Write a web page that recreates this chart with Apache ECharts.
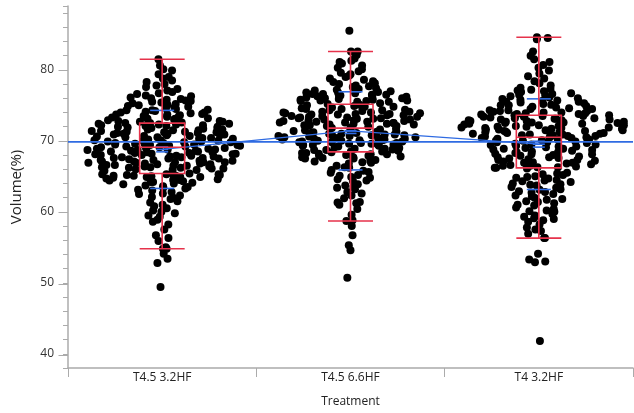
<!DOCTYPE html>
<html><head><meta charset="utf-8">
<script src="https://cdn.jsdelivr.net/npm/echarts@6/dist/echarts.min.js"></script>
<style>html,body{margin:0;padding:0;background:#fff}#c{width:634px;height:413px}</style>
</head><body><div id="c"></div>
<script>
const categories = ['T4.5 3.2HF', 'T4.5 6.6HF', 'T4 3.2HF'];
const yTickLabels = [40, 50, 60, 70, 80];

const volT45_32 = [
  49.4, 52.8, 53.4, 54.1, 54.8, 54.8, 55.0, 55.9,
  56.3, 56.7, 57.5,
  58.2, 58.6, 58.9, 59.3, 59.5, 59.8, 60.0, 60.2,
  60.5, 60.8, 61.0, 61.3, 61.5, 61.8, 62.0, 62.1, 62.3, 62.5, 62.6,
  62.8, 63.0, 63.1, 63.3, 63.4, 63.5, 63.6, 63.7, 63.9, 64.0, 64.1, 64.2, 64.3, 64.4, 64.5, 64.6, 64.7, 64.8, 64.9, 64.9, 65.0,
  65.1, 65.1, 65.2, 65.2, 65.3, 65.3, 65.4, 64.2, 64.5, 64.7, 64.9, 65.1, 65.2, 65.3, 65.8, 65.9, 65.9, 66.0, 66.1, 66.1,
  66.2, 66.2, 66.3, 66.3, 66.4, 66.4, 66.5, 66.5, 66.6, 66.6, 66.7, 66.7, 66.8, 66.8, 66.9, 66.9, 67.0, 67.0, 67.0, 67.1,
  67.1, 67.2, 67.2, 67.3, 67.3, 67.4,
  67.5, 67.5, 67.6, 67.6, 67.7, 67.7, 67.8, 67.8, 67.9, 67.9, 68.0, 68.0, 68.1, 68.1, 68.2, 68.2, 68.3, 68.3, 68.4, 68.4,
  68.5, 68.5, 68.6, 68.6, 68.7, 68.7, 68.8, 68.8, 68.9, 68.9, 69.0, 69.0, 69.1, 69.1, 69.2, 69.2, 69.3, 69.3, 69.4, 69.4,
  69.5, 69.5, 69.6, 69.6, 69.7,
  69.7, 69.8, 69.8, 69.9, 69.9, 70.0, 70.0, 70.1, 70.1, 70.2, 70.2, 70.3, 70.3, 70.4, 70.4, 70.5, 70.5, 70.6,
  70.7, 70.7, 70.8, 70.8, 70.9, 70.9, 71.0, 71.0, 71.1, 71.1, 71.2, 71.2, 71.3, 71.3, 71.4, 71.4, 71.5, 71.5, 71.6, 71.6,
  71.7, 71.8, 71.8, 71.9, 72.0, 72.0, 72.1, 72.1, 72.2, 72.2, 72.3, 72.3, 72.4, 72.4, 72.5, 72.5, 72.6, 72.7, 72.7, 72.8,
  72.8, 72.9, 73.0,
  73.1, 73.1, 73.2, 73.3, 73.3, 73.4, 73.5, 73.5, 73.6, 73.7, 73.7, 73.8, 73.9, 74.0, 74.0, 74.1, 74.2, 74.3, 74.3, 74.4,
  74.5, 74.6, 74.7, 74.8,
  74.9, 75.0, 75.1, 75.2, 75.3, 75.4, 75.5, 75.6, 75.7, 75.8, 75.9, 76.0, 76.1, 76.3, 76.4, 76.6, 76.7,
  76.9, 77.1, 77.3, 77.6, 77.8, 78.0, 78.3, 78.5,
  78.8, 79.0, 79.4, 79.9, 80.1, 80.6, 81.5
];

const volT45_66 = [
  50.7, 54.6, 55.3, 56.7, 58.0,
  58.7, 58.8, 59.6, 60.4,
  61.0, 61.2, 61.3, 61.4, 61.9, 62.3, 62.6,
  62.8, 63.2, 63.4, 63.5, 63.7, 63.9, 64.3, 64.4, 64.6, 64.8, 64.9,
  65.1, 65.2, 65.5, 65.6, 65.8, 65.9, 66.2, 66.3, 66.5, 66.8, 66.9, 67.0, 67.1, 67.2, 67.3,
  67.5, 67.5, 67.6, 67.7, 67.7, 67.8, 67.9, 67.9, 68.0, 68.1, 68.1, 68.2, 68.3, 68.3, 68.4, 68.5, 68.5, 68.6, 68.7, 68.7,
  68.8, 68.9, 68.9, 69.0, 69.1, 69.2,
  69.3, 69.3, 69.4, 69.4, 69.5, 69.5, 69.6, 69.6, 69.7, 69.7, 69.8, 69.8, 69.9, 69.9, 70.0, 70.0, 70.1, 70.1, 70.2, 70.2,
  70.3, 70.3, 70.4, 70.4, 70.5, 70.5, 70.6, 70.6, 70.7, 70.7, 70.8, 70.8, 70.9, 70.9, 71.0, 71.0, 71.1, 71.1, 71.2, 71.3,
  71.3, 71.4, 71.5, 71.5, 71.6, 71.7, 71.8, 71.9, 72.0,
  72.1, 72.1, 72.2, 72.2, 72.3, 72.3, 72.4, 72.4, 72.5, 72.5, 72.6, 72.6, 72.7, 72.7, 72.8, 72.8, 72.9, 72.9, 73.0, 73.0,
  73.1, 73.1, 73.2, 73.2, 73.3, 73.3, 73.4, 73.4, 73.5, 73.5, 73.6, 73.6, 73.7, 73.7, 73.8, 73.8, 73.9, 73.9, 74.0, 74.0,
  74.1, 74.1, 74.2, 74.3, 74.3, 74.4, 74.5, 74.5, 74.6, 74.7, 74.8, 74.8, 74.9, 75.0, 75.1, 75.2, 75.3,
  75.5, 75.5, 75.6, 75.6, 75.7, 75.7, 75.8, 75.8, 75.9, 76.0, 76.0, 76.1, 76.2, 76.2, 76.3, 76.4, 76.4, 76.5, 76.5, 76.6,
  76.6, 76.7, 76.8, 76.8, 76.9, 77.0, 77.1, 77.2,
  77.3, 77.4, 77.6, 77.7, 77.8, 78.0, 78.1, 78.3, 78.4, 78.6, 78.8, 79.0, 79.2, 79.4, 79.6, 79.8, 80.1, 80.3, 80.6, 80.9,
  81.1, 81.3, 81.6, 82.1,
  82.6, 82.6, 85.5
];

const volT4_32 = [
  41.8, 52.9, 53.0, 53.3, 54.1,
  56.3, 56.3, 56.9, 57.3, 57.5, 57.8, 58.2,
  58.6, 58.8, 59.0, 59.1, 59.3, 59.5, 59.7, 60.0, 60.1, 60.2, 60.4, 60.6,
  60.9, 61.0, 61.2, 61.4, 61.5, 61.7, 61.8, 62.0, 62.2, 62.3, 62.5, 62.7, 62.8, 62.9, 63.1, 63.2, 63.4, 63.5,
  63.7, 63.8, 63.9, 64.0, 64.2, 64.3, 64.4, 64.5, 64.7, 64.8, 64.9, 65.0, 65.2, 65.3, 65.4, 65.5, 66.2, 66.3, 66.5,
  66.1, 66.2, 66.3, 66.4, 66.4, 66.5, 66.6, 66.7, 66.8, 66.9, 66.9, 67.0, 67.1, 67.2, 67.3, 67.3, 67.4, 67.5, 67.6, 67.7,
  67.7, 67.8, 67.9, 68.0, 68.1, 68.1, 68.2, 68.3, 68.4, 68.4, 68.5, 68.6, 68.7, 68.8,
  68.9, 68.9, 69.0, 69.1, 69.2, 69.2, 69.3, 69.4, 69.5, 69.5, 69.6, 69.7, 69.8, 69.8, 69.9, 70.0, 70.0, 70.1, 70.2, 70.2,
  70.3, 70.4, 70.4, 70.5, 70.5, 70.6,
  70.7, 70.7, 70.8, 70.8, 70.9, 70.9, 71.0, 71.0, 71.1, 71.1, 71.2, 71.2, 71.3, 71.3, 71.4, 71.4, 71.5, 71.5, 71.6, 71.6,
  71.7, 71.7, 71.8, 71.8, 71.9, 71.9, 72.0, 72.0, 72.1, 72.1, 72.2, 72.2, 72.3, 72.3, 72.4, 72.4, 72.5, 72.5, 72.6, 72.6,
  72.7, 72.7, 72.8, 72.8, 72.9, 72.9, 73.0, 73.0,
  73.1, 73.1, 73.2, 73.2, 73.3, 73.4, 73.4, 73.5, 73.5, 73.6, 73.6, 73.7, 73.8, 73.8, 73.9, 73.9, 74.0, 74.0, 74.1, 74.2,
  74.2, 74.3, 74.3,
  74.5, 74.5, 74.6, 74.7, 74.8, 74.9, 75.0, 75.0, 75.1, 75.2, 75.3, 75.4, 75.5, 75.5, 75.6, 75.7, 75.8, 75.9, 76.0, 76.1,
  76.3, 76.4, 76.5, 76.6, 76.7, 76.9, 77.0, 77.1, 77.2, 77.3, 77.5,
  77.8, 78.1, 78.4, 78.8, 79.1, 79.5, 79.9, 80.3, 80.7, 81.1, 81.5, 82.0, 82.6,
  84.3, 84.5, 84.6
];

const groups = [volT45_32, volT45_66, volT4_32];

// ---- layout constants ----
const W = 634, H = 413;
const GRID = { left: 68, right: 1, top: 6, bottom: 43.5 };
const Y_MIN = 38, Y_MAX = 89;
const plotH = H - GRID.top - GRID.bottom;
const ppu = plotH / (Y_MAX - Y_MIN);
const bandPx = (W - GRID.left - GRID.right) / categories.length;
const RED = '#e6324b', BLUE = '#2f6be2', AXIS = '#ababab';
const FONT = '"Open Sans", "Noto Sans", sans-serif';
const MAXHALF = [79, 78, 88];   // swarm half-width (px) per group
const STRATA = 5;

// ---- statistics ----
function quant(s, p) {
  const n = s.length; const pos = p * (n + 1);
  if (pos <= 1) return s[0];
  if (pos >= n) return s[n - 1];
  const i = Math.floor(pos), f = pos - i;
  return s[i - 1] + f * (s[i] - s[i - 1]);
}
const stats = groups.map(g => {
  const s = g.slice().sort((a, b) => a - b);
  const n = s.length;
  const mean = s.reduce((a, b) => a + b, 0) / n;
  const sd = Math.sqrt(s.reduce((a, b) => a + (b - mean) * (b - mean), 0) / (n - 1));
  const q1 = quant(s, 0.25), med = quant(s, 0.5), q3 = quant(s, 0.75);
  const iqr = q3 - q1;
  const lw = s.find(v => v >= q1 - 1.5 * iqr);
  const uw = s.slice().reverse().find(v => v <= q3 + 1.5 * iqr);
  return { s, n, mean, sd, se: sd / Math.sqrt(n), q1, med, q3, lw, uw };
});
const all = groups.flat();
const grandMean = all.reduce((a, b) => a + b, 0) / all.length;

// ---- density-scaled stratified jitter (deterministic hash, x positions only) ----
const BW = 1.2;
function dens(g, v) { let d = 0; for (const x of g) { const t = Math.abs(x - v) / BW; if (t < 1) d += 1 - t; } return d; }
function hashU(a, b) {
  let h = (Math.imul(a + 1, 374761393) + Math.imul(b + 7, 668265263)) | 0;
  h = Math.imul(h ^ (h >>> 13), 1274126177);
  h ^= h >>> 16;
  h = Math.imul(h ^ (h >>> 15), 2246822519);
  h ^= h >>> 13;
  return (h >>> 0) / 4294967296;
}
const scatterData = [];
groups.forEach((g, gi) => {
  const s = g.slice().sort((a, b) => a - b);
  let dmax = 0; s.forEach(v => { dmax = Math.max(dmax, dens(g, v)); });
  let perm = [];
  s.forEach((v, k) => {
    const blk = Math.floor(k / STRATA);
    if (k % STRATA === 0) {
      perm = [...Array(STRATA).keys()].map(i => [i, hashU(blk * 31 + i, gi + 11)])
        .sort((a, b) => a[1] - b[1]).map(p => p[0]);
    }
    const cell = perm[k % STRATA];
    const f = (cell + hashU(k, gi)) / STRATA;
    const hw = MAXHALF[gi] * dens(g, v) / dmax;
    scatterData.push([gi + 0.5 + (f * 2 - 1) * hw / bandPx, v]);
  });
});

const shortLines = [];
stats.forEach((st, gi) => {
  shortLines.push([gi, st.mean + st.sd, 12]);
  shortLines.push([gi, st.mean - st.sd, 12]);
  shortLines.push([gi, st.mean, 6]);
  shortLines.push([gi, st.mean + st.se, 6]);
  shortLines.push([gi, st.mean - st.se, 6]);
});

const top2 = GRID.top + (Y_MAX - 80) * ppu;
const bot2 = H - (GRID.top + (Y_MAX - 40) * ppu);

const chart = echarts.init(document.getElementById('c'));
chart.setOption({
  animation: false,
  backgroundColor: '#fff',
  textStyle: { fontFamily: FONT },
  grid: [
    { left: GRID.left, right: GRID.right, top: GRID.top, bottom: GRID.bottom },
    { left: GRID.left, right: GRID.right, top: top2, bottom: bot2 }
  ],
  xAxis: [
    {
      type: 'category', data: categories, gridIndex: 0, boundaryGap: true,
      name: 'Treatment', nameLocation: 'middle', nameGap: 28,
      nameTextStyle: { fontSize: 12, color: '#222', fontFamily: FONT },
      axisLine: { lineStyle: { color: AXIS, width: 1.5 } },
      axisTick: { show: true, length: 9, lineStyle: { color: AXIS } },
      axisLabel: { fontSize: 12, color: '#222', margin: 4, fontFamily: FONT },
      splitLine: { show: false }
    },
    { type: 'value', gridIndex: 0, min: 0, max: 3, show: false },
    { type: 'value', gridIndex: 1, min: 0, max: 3, show: false }
  ],
  yAxis: [
    {
      type: 'value', gridIndex: 0, min: Y_MIN, max: Y_MAX, interval: 2,
      name: 'Volume(%)', nameLocation: 'middle', nameGap: 44,
      nameTextStyle: { fontSize: 15, color: '#222', fontFamily: FONT },
      axisLine: { show: true, lineStyle: { color: AXIS, width: 1.5 } },
      axisTick: { show: true, length: 5, lineStyle: { color: AXIS } },
      axisLabel: {
        fontSize: 12, color: '#333', margin: 14, fontFamily: FONT,
        formatter: v => (yTickLabels.indexOf(v) >= 0 ? String(v) : '')
      },
      splitLine: { show: false }
    },
    {
      type: 'value', gridIndex: 1, min: 40, max: 80, interval: 10,
      axisLine: { show: false },
      axisTick: { show: true, length: 9.5, lineStyle: { color: AXIS } },
      axisLabel: { show: false },
      splitLine: { show: false }
    }
  ],
  series: [
    {
      type: 'scatter', xAxisIndex: 1, yAxisIndex: 0, data: scatterData,
      symbol: 'circle', symbolSize: 8, itemStyle: { color: '#000', opacity: 1 }, z: 2, silent: true
    },
    {
      type: 'line', xAxisIndex: 1, yAxisIndex: 0, data: [[0, grandMean], [3, grandMean]],
      symbol: 'none', lineStyle: { color: BLUE, width: 1.6 }, z: 3, silent: true
    },
    {
      type: 'line', xAxisIndex: 1, yAxisIndex: 0,
      data: stats.map((st, gi) => [gi + 0.5, st.mean]),
      symbol: 'none', lineStyle: { color: BLUE, width: 1.4 }, z: 3, silent: true
    },
    {
      type: 'custom', xAxisIndex: 1, yAxisIndex: 0, data: shortLines, z: 3, silent: true,
      renderItem: (params, api) => {
        const c = api.coord([api.value(0) + 0.5, api.value(1)]);
        const hw = api.value(2);
        return { type: 'line', shape: { x1: c[0] - hw, y1: c[1], x2: c[0] + hw, y2: c[1] },
                 style: { stroke: BLUE, lineWidth: 1.6 } };
      }
    },
    {
      type: 'boxplot', xAxisIndex: 0, yAxisIndex: 0, z: 4, silent: true,
      boxWidth: [45, 45],
      data: stats.map(st => [st.lw, st.q1, st.med, st.q3, st.uw]),
      itemStyle: { color: 'rgba(0,0,0,0)', borderColor: RED, borderWidth: 1.6 }
    }
  ]
});
</script>
</body></html>
